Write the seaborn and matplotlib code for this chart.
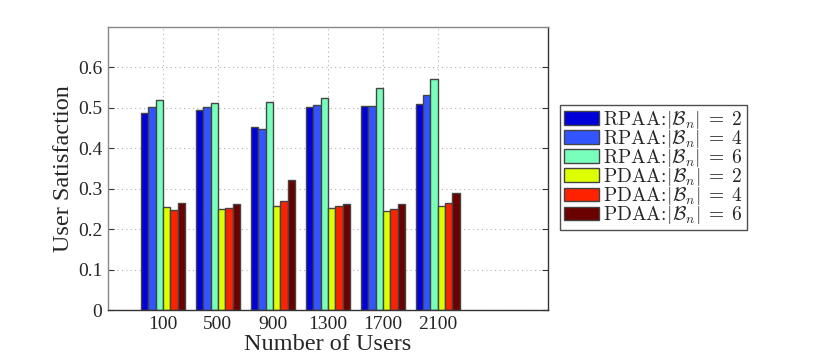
import matplotlib
matplotlib.use("Agg")
import matplotlib.pyplot as plt
import seaborn as sns
import pandas as pd

users = ["100", "500", "900", "1300", "1700", "2100"]
series = [r"$\mathrm{RPAA}\!:\!|\mathcal{B}_n|\;=\;2$",
          r"$\mathrm{RPAA}\!:\!|\mathcal{B}_n|\;=\;4$",
          r"$\mathrm{RPAA}\!:\!|\mathcal{B}_n|\;=\;6$",
          r"$\mathrm{PDAA}\!:\!|\mathcal{B}_n|\;=\;2$",
          r"$\mathrm{PDAA}\!:\!|\mathcal{B}_n|\;=\;4$",
          r"$\mathrm{PDAA}\!:\!|\mathcal{B}_n|\;=\;6$"]
rpaa_2 = [0.486, 0.495, 0.452, 0.503, 0.505, 0.509]
rpaa_4 = [0.503, 0.503, 0.447, 0.508, 0.505, 0.531]
rpaa_6 = [0.519, 0.511, 0.515, 0.524, 0.549, 0.572]
pdaa_2 = [0.254, 0.250, 0.256, 0.253, 0.246, 0.256]
pdaa_4 = [0.247, 0.252, 0.270, 0.256, 0.249, 0.264]
pdaa_6 = [0.265, 0.261, 0.321, 0.262, 0.261, 0.289]
colors = ["#0000d8", "#3355ff", "#77ffbb", "#ddff00", "#ff2200", "#6a0000"]

vals = [rpaa_2, rpaa_4, rpaa_6, pdaa_2, pdaa_4, pdaa_6]
rows = []
for s, v in zip(series, vals):
    for u, y in zip(users, v):
        rows.append({"users": u, "series": s, "value": y})
df = pd.DataFrame(rows)

sns.set_style("white")
plt.rcParams["font.family"] = ["Liberation Serif", "DejaVu Serif"]
plt.rcParams["mathtext.fontset"] = "cm"

fig = plt.figure(figsize=(8.3, 3.58), dpi=100)
ax = fig.add_axes([0.130, 0.134, 0.530, 0.791])
ax.set_axisbelow(True)
sns.barplot(data=df, x="users", y="value", hue="series", order=users,
            hue_order=series, palette=colors, width=0.8, gap=0,
            edgecolor="#444444", linewidth=1.0, ax=ax, errorbar=None,
            saturation=1)
ax.set_xlim(-1, 7)
ax.set_ylim(0, 0.7)
ax.set_yticks([0, 0.1, 0.2, 0.3, 0.4, 0.5, 0.6])
ax.set_yticklabels(["0", "0.1", "0.2", "0.3", "0.4", "0.5", "0.6"])
ax.grid(True, axis="both", linestyle=(0, (1, 3)), color="#b0b0b0", linewidth=0.8)
ax.tick_params(direction="in", length=4, labelsize=14, top=False, right=True,
               bottom=True, left=True, color="#333333", pad=4)
for name, sp in ax.spines.items():
    sp.set_visible(True)
    sp.set_linewidth(1.0)
    sp.set_color("#888888" if name in ("top", "left") else "#333333")
ax.set_xlabel("Number of Users", fontsize=17.5, labelpad=1)
ax.set_ylabel("User Satisfaction", fontsize=17.5, labelpad=3)

leg = ax.legend(loc="upper left", bbox_to_anchor=(0.675, 0.707), bbox_transform=fig.transFigure,
                fontsize=14, frameon=True, fancybox=False, edgecolor="#222222",
                borderpad=0.2, labelspacing=-0.15, handlelength=1.8, handleheight=0.7,
                handletextpad=0.2, borderaxespad=0)
leg.get_frame().set_linewidth(1.0)

fig.savefig("out.png", dpi=100, facecolor="white")
